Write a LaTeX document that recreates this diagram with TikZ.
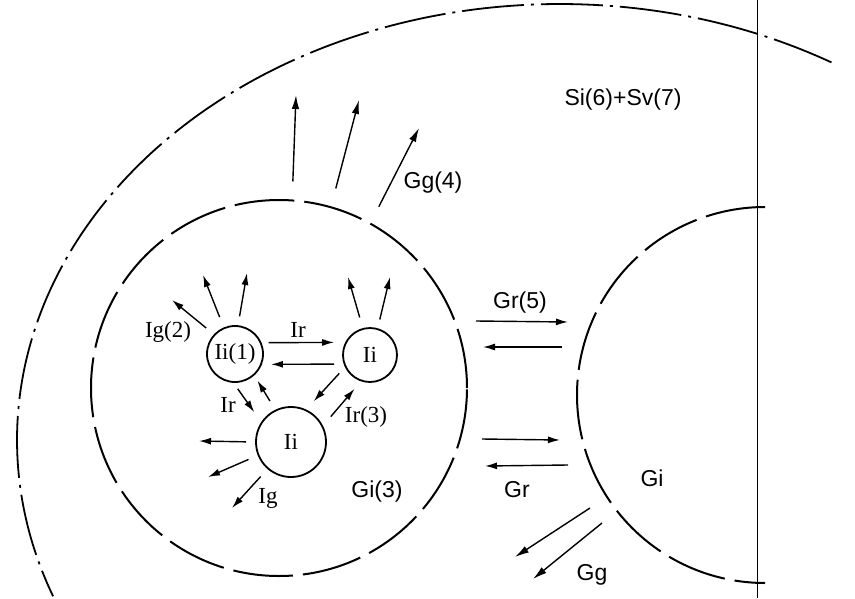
\documentclass[tikz,border=0pt]{standalone}
\usepackage{fontspec}
\setmainfont{Liberation Serif}
\setsansfont{Liberation Sans}
\usetikzlibrary{arrows.meta,calc}
\begin{document}
\begin{tikzpicture}[x=1pt,y=-1pt,
  arr/.style={line width=1.4pt,-{Latex[length=12pt,width=7pt]}},
  bigarr/.style={line width=1.4pt,-{Latex[length=14pt,width=7.5pt]}},
  iicirc/.style={circle,draw,line width=1.8pt,inner sep=0pt,font=\fontsize{23}{23}\selectfont},
  slab/.style={font=\sffamily\fontsize{23}{23}\selectfont},
  ilab/.style={font=\fontsize{23}{23}\selectfont},
  gdash/.style={line width=2pt,dash pattern=on 60pt off 10pt},
  odash/.style={line width=1.8pt,dash pattern=on 62pt off 7pt on 3pt off 7pt}]
\useasboundingbox (0,0) rectangle (855,598);
\fill[white] (0,0) rectangle (855,598);

% outer dash-dot boundary
\draw[odash] plot[domain=60:201,samples=160,smooth,variable=\t]
  ({560+543*cos(\t)},{440-436*sin(\t)});

% vertical line
\coordinate (vtop) at (757,0);
\coordinate (vbot) at (757,598);
\draw[line width=0.7pt] (vtop) -- (vbot);

% big inner circle Gi(3)
\node[circle,draw,gdash,minimum size=376pt,inner sep=0pt] (g3) at (279,388) {};
% right circle Gi (left half)
\node[circle,minimum size=376pt,inner sep=0pt] (gi) at (765,395) {};
\draw[gdash] plot[domain=90:270,samples=120,smooth,variable=\t]
  ({765+188*cos(\t)},{395-188*sin(\t)});

% small circles
\node[iicirc,minimum size=56pt] (i1) at (235,354) {Ii(1)};
\node[iicirc,minimum size=54pt] (i2) at (370,355) {Ii};
\node[iicirc,minimum size=70pt] (i3) at (291,442) {Ii};

% arrows out of i1
\coordinate (h1a) at (172,300);
\coordinate (h1b) at (203,275);
\coordinate (h1c) at (247,273);
\draw[arr,shorten <=10pt] (i1.137) -- (h1a);
\draw[arr,shorten <=11pt] (i1.113) -- (h1b);
\draw[arr,shorten <=9pt] (i1.84) -- (h1c);
% arrows out of i2
\coordinate (h2a) at (348,277);
\coordinate (h2b) at (390,277);
\draw[arr,shorten <=11pt] (i2.105) -- (h2a);
\draw[arr,shorten <=9pt] (i2.74) -- (h2b);
% arrows out of i3
\coordinate (h3a) at (199,441);
\coordinate (h3b) at (208,477);
\coordinate (h3c) at (232,508);
\draw[arr,shorten <=9pt] (i3.180) -- (h3a);
\draw[arr,shorten <=10pt] (i3.202) -- (h3b);
\draw[arr,shorten <=10pt] (i3.229) -- (h3c);

% exchange arrows between small circles
\draw[arr,shorten <=7pt,shorten >=11pt] (i1.23) -- (i2.153.6);
\draw[arr,shorten <=9.5pt,shorten >=9pt] (i2.199.5) -- (i1.339.1);
\draw[arr,shorten <=7.3pt,shorten >=11.9pt] (i1.267.7) -- (i3.146.8);
\draw[arr,shorten <=10.2pt,shorten >=6pt] (i3.116.9) -- (i1.312.4);
\draw[arr,shorten <=8.4pt,shorten >=11.1pt] (i2.206.1) -- (i3.65.7);
\draw[arr,shorten <=12pt,shorten >=9.8pt] (i3.27) -- (i2.251.4);

% Gg(4) arrows out of Gi(3)
\coordinate (h4a) at (296,95);
\coordinate (h4b) at (359,100);
\coordinate (h4c) at (419,128);
\draw[bigarr,shorten <=18pt] (g3.86.4) -- (h4a);
\draw[bigarr,shorten <=18.5pt] (g3.74.5) -- (h4b);
\draw[bigarr,shorten <=18pt] (g3.61.6) -- (h4c);

% Gr arrows between Gi(3) and Gi
\coordinate (r1s) at (476,321); \coordinate (r1e) at (568,322);
\coordinate (r2s) at (562,347); \coordinate (r2e) at (483,347);
\coordinate (r3s) at (482,439); \coordinate (r3e) at (560,440);
\coordinate (r4s) at (568,465); \coordinate (r4e) at (485,466);
\draw[arr] (r1s) -- (r1e);
\draw[arr] (r2s) -- (r2e);
\draw[arr] (r3s) -- (r3e);
\draw[arr] (r4s) -- (r4e);

% Gg arrows out of Gi
\coordinate (g1s) at (590,508); \coordinate (g1e) at (515,557);
\coordinate (g2s) at (602,523); \coordinate (g2e) at (533,579);
\draw[bigarr] (g1s) -- (g1e);
\draw[bigarr] (g2s) -- (g2e);

% labels
\node[slab] (lsi) at (623,100) {Si(6)+Sv(7)};
\node[slab] (lgg4) at (433,183) {Gg(4)};
\node[slab] (lgr5) at (520,303) {Gr(5)};
\node[slab] (lgr) at (517,490) {Gr};
\node[slab] (lgg) at (592,575) {Gg};
\node[slab] (lgi) at (652,478) {Gi};
\node[slab] (lgi3) at (377,492) {Gi(3)};
\node[ilab] (lig2) at (168,332) {Ig(2)};
\node[ilab] (lir1) at (298,330) {Ir};
\node[ilab] (lir2) at (228,405) {Ir};
\node[ilab] (lir3) at (366,417) {Ir(3)};
\node[ilab] (lig) at (268,498) {Ig};
\end{tikzpicture}
\end{document}
